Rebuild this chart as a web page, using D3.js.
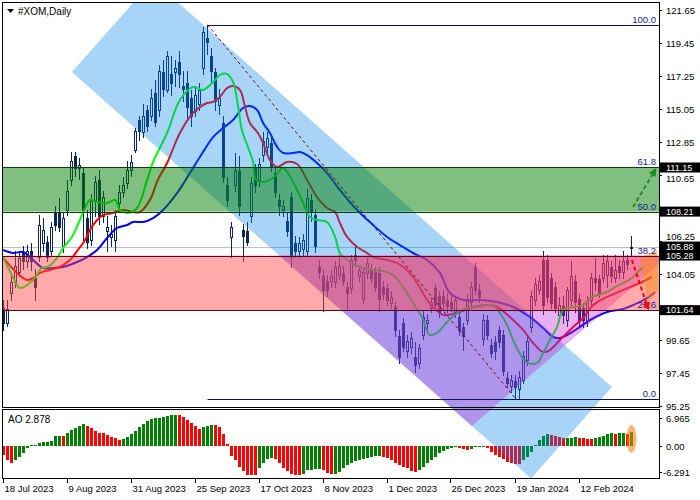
<!DOCTYPE html>
<html><head><meta charset="utf-8">
<script src="https://cdn.jsdelivr.net/npm/d3@7/dist/d3.min.js"></script>
<style>body{margin:0;background:#fff}svg{display:block;font-family:"Liberation Sans",Arial,sans-serif}</style>
</head><body><svg id="c" width="700" height="500"></svg>
<script>
// ---------- DATA ----------
const dateLabels = ["18 Jul 2023","9 Aug 2023","31 Aug 2023","25 Sep 2023","17 Oct 2023","8 Nov 2023","1 Dec 2023","26 Dec 2023","19 Jan 2024","12 Feb 2024"];
const dateBars = [0,16,32,48,64,80,96,112,128,144];
const priceTicks = [121.65,119.45,117.25,115.05,112.85,110.65,108.45,106.25,104.05,101.85,99.65,97.45,95.25];
const priceBoxes = [111.15,108.21,101.64,105.28,105.88];
const aoTicks = [6.965,0.00,-6.291];
const aoTickText = ["6.965","0.00","-6.291"];

const open = [101.8,100.8,102.8,103.5,104.2,105.5,104.9,105.6,103.8,105.2,106.1,106.2,105.6,108.2,108.1,105.9,108.3,110.3,111.9,111.1,
110.8,107.8,106.3,109.0,110.3,107.9,106.9,106.5,106.3,108.8,109.5,110.1,111.0,112.3,114.3,113.5,115.0,114.6,116.1,115.0,
117.5,116.3,117.4,117.5,118.2,116.6,116.8,115.8,114.9,115.4,117.8,119.8,118.6,117.5,115.3,114.1,110.0,106.5,110.0,110.9,
107.0,106.9,107.9,111.1,110.3,112.0,112.5,112.8,110.8,109.0,108.3,107.6,109.2,106.1,105.6,105.7,105.6,109.0,108.0,104.5,
103.9,103.6,103.6,103.5,104.0,104.1,103.2,103.1,105.3,103.9,102.4,104.1,104.3,104.2,104.1,103.2,103.1,102.1,101.9,99.9,
100.8,98.9,99.2,98.5,98.1,100.0,100.8,101.8,103.1,102.6,102.6,102.3,102.2,101.5,101.2,100.5,101.0,102.2,104.5,103.0,
99.7,101.0,99.3,99.5,100.3,100.0,97.1,96.6,96.9,96.4,97.0,98.3,100.5,102.3,103.0,105.0,105.0,103.8,103.2,101.3,
101.9,101.0,102.3,103.6,102.4,101.8,100.9,102.3,103.8,103.7,103.8,104.0,104.5,103.8,104.6,104.2,105.0,105.8];
const high = [102.3,102.3,104.1,105.6,105.6,105.9,106.0,106.1,104.4,108.0,107.8,106.6,107.5,108.6,109.1,108.2,110.3,112.2,112.2,111.8,
111.2,108.3,109.4,110.6,111.0,109.6,107.9,107.3,108.3,110.0,110.5,111.6,112.0,113.8,114.6,115.4,115.3,116.4,117.0,118.0,
118.3,118.9,118.6,118.3,118.9,117.6,117.6,116.3,116.6,116.8,120.5,120.67,119.1,117.8,116.4,114.6,110.5,107.5,112.1,111.9,
107.4,107.5,110.5,111.4,111.8,113.5,113.5,113.2,111.2,109.4,109.0,108.2,109.5,106.6,106.5,106.7,109.7,109.4,108.4,105.0,
104.3,104.0,104.3,104.9,105.3,104.6,103.5,105.3,106.0,104.6,104.5,105.1,104.7,104.5,104.5,103.6,103.4,102.9,102.2,100.3,
101.1,100.0,100.2,99.5,99.4,101.6,101.4,102.5,103.4,102.9,103.0,102.8,102.6,102.6,101.5,100.8,102.7,103.5,104.8,103.4,
101.4,101.3,99.7,99.9,100.6,100.3,97.5,97.3,97.3,97.6,98.9,99.9,102.9,103.8,104.0,105.6,105.3,104.1,103.5,102.5,
102.6,103.2,104.9,104.0,102.7,102.1,102.6,104.1,105.1,104.0,105.3,105.3,104.9,105.3,105.0,105.6,105.3,106.6];
const low = [100.3,100.6,102.3,103.2,103.9,104.4,104.5,104.3,102.3,104.9,105.6,104.9,105.3,107.0,106.9,105.5,108.0,110.0,110.6,110.4,
106.3,105.8,106.0,107.9,107.4,107.5,105.6,105.9,105.6,108.5,109.2,109.8,110.6,112.2,113.0,113.2,113.6,114.3,113.9,114.6,
115.9,116.2,116.0,116.6,116.5,115.6,114.4,113.9,114.6,115.0,117.4,118.7,116.8,115.0,114.7,110.2,108.6,105.2,109.6,108.0,
104.9,106.0,107.5,109.5,109.9,111.6,112.0,110.9,109.2,108.0,107.9,106.6,104.5,105.2,105.2,105.3,105.3,107.6,105.5,103.8,
101.6,102.6,103.2,103.2,103.7,103.3,101.65,102.8,104.6,103.6,102.1,103.8,103.5,102.9,101.6,102.4,102.0,101.8,99.9,98.1,
98.9,98.5,98.8,97.5,97.8,99.7,100.4,101.5,101.7,101.2,101.7,101.5,101.6,101.2,100.0,99.0,100.7,101.9,102.7,102.2,
99.3,99.7,98.5,98.4,99.2,97.3,96.5,96.2,95.75,95.8,96.8,98.0,100.2,102.0,102.7,101.4,102.2,101.8,101.5,100.9,
100.8,100.6,102.0,101.5,100.6,100.5,100.6,102.0,103.0,102.5,103.5,103.2,103.5,103.5,103.8,103.8,104.4,105.3];
const close = [100.8,101.7,103.5,104.6,105.1,104.9,105.6,104.9,103.2,107.3,107.0,105.2,107.2,107.3,107.2,107.8,109.6,111.6,111.1,111.3,
108.3,106.2,108.9,110.2,107.9,109.2,107.2,106.7,107.9,109.5,110.0,111.0,111.5,113.6,113.6,114.6,113.9,115.8,114.2,117.6,
116.4,118.6,116.8,117.8,117.4,116.4,115.2,114.6,116.0,116.3,120.2,119.5,117.6,115.6,115.8,110.5,109.0,107.2,111.0,108.6,
106.6,106.2,110.1,110.0,111.4,112.9,113.1,111.2,109.5,108.6,108.6,106.9,105.2,105.6,106.1,106.3,109.1,108.2,105.9,104.2,
103.0,103.0,103.9,104.5,104.6,103.6,102.8,105.0,105.0,104.3,104.2,104.8,103.8,103.2,102.4,102.7,102.3,102.5,100.3,98.5,
99.2,99.6,99.8,98.0,99.1,101.2,101.0,102.2,102.0,101.5,102.1,101.9,101.8,102.3,100.3,99.9,102.4,103.2,103.0,102.5,
101.0,100.0,98.8,98.9,99.5,97.6,96.8,97.0,96.5,97.2,98.6,99.6,102.6,103.4,103.6,102.0,102.5,102.1,101.8,102.0,
101.3,103.0,103.9,102.2,100.9,101.0,102.3,103.8,103.5,102.8,104.8,104.9,103.9,104.3,104.2,104.9,104.7,105.88];

const ao = [-1.74,-2.73,-3.26,-2.73,-2.07,-1.28,-0.42,0.17,0.24,0.57,0.77,0.9,1.03,2.02,2.05,2.0,2.55,3.2,3.54,4.0,
4.33,4.0,3.54,3.0,2.68,2.55,2.2,1.89,1.56,1.3,1.35,1.75,2.4,3.0,3.87,4.4,5.05,5.38,5.5,5.65,
5.85,6.05,6.18,6.2,6.15,5.72,5.19,4.53,4.0,3.48,3.75,4.02,4.15,4.1,3.75,2.42,0.44,-1.9,-2.7,-4.05,
-5.0,-5.6,-5.72,-5.75,-4.4,-3.3,-2.6,-2.4,-2.45,-3.26,-4.38,-4.85,-5.5,-5.7,-5.72,-5.5,-4.7,-4.65,-4.58,-4.55,
-4.7,-5.37,-5.57,-5.5,-5.04,-4.38,-3.72,-3.26,-2.93,-2.73,-2.53,-2.27,-2.07,-1.94,-1.87,-2.07,-2.4,-2.73,-3.26,-3.72,
-4.05,-4.38,-4.85,-5.04,-4.7,-4.05,-3.4,-2.73,-2.07,-1.4,-0.95,-0.62,-0.35,-0.2,-0.3,-0.55,-0.7,-0.5,-0.2,0.05,
0.1,-0.3,-1.1,-1.7,-2.1,-2.6,-3.06,-3.3,-3.45,-3.55,-2.7,-2.07,-1.2,0.2,1.2,2.0,2.35,2.3,2.05,1.8,
1.55,1.65,1.7,1.75,1.7,1.6,1.5,1.45,1.6,1.85,2.1,2.4,2.55,2.45,2.55,2.6,2.5,2.878];

// Alligator lines: [bar, price]
const lips = [[-0.1,105.18],[2.1,103.98],[4.1,103.12],[7.4,103.65],[9.6,104.45],[11.1,104.52],[13.4,105.12],[14.9,105.78],[17.1,106.52],[19.1,107.65],[20.4,108.45],[21.6,108.98],[23.4,108.85],[25.9,108.78],[27.9,108.98],[29.1,108.32],[31.1,108.12],[33.4,108.45],[35.9,110.32],[37.4,111.52],[40.9,113.45],[44.1,115.65],[47.4,116.52],[49.9,116.32],[52.4,116.85],[54.1,117.32],[55.9,117.38],[57.4,116.85],[58.6,115.32],[59.6,113.65],[61.1,112.52],[62.4,111.52],[63.1,110.32],[64.9,110.18],[67.4,110.45],[69.9,111.12],[72.1,110.32],[74.6,108.98],[76.6,107.85],[78.4,107.65],[80.9,107.52],[82.9,106.52],[84.1,105.45],[85.9,104.98],[89.1,104.52],[92.4,104.32],[94.9,104.25],[97.4,103.98],[99.9,103.18],[102.4,102.12],[104.6,101.18],[106.6,99.98],[108.4,100.12],[110.9,100.85],[113.4,101.45],[115.9,101.78],[118.4,101.85],[120.9,101.98],[122.4,101.98],[124.1,101.45],[125.9,100.65],[127.4,99.65],[129.6,98.52],[131.1,98.12],[133.4,98.12],[134.9,98.78],[136.6,99.65],[138.4,100.52],[139.9,101.65],[142.4,101.85],[144.9,101.98],[146.6,102.45],[148.6,102.65],[150.9,102.85],[152.9,103.18],[154.9,103.45],[157.1,103.78],[159.1,104.32],[159.9,104.45]];
const teeth = [[-0.1,105.12],[3.4,104.12],[5.9,103.65],[7.4,103.78],[9.1,104.12],[11.6,104.32],[14.1,104.52],[16.6,104.98],[18.6,105.65],[20.4,106.32],[21.6,106.98],[23.4,107.65],[24.9,107.98],[27.4,108.12],[29.9,108.32],[32.4,108.18],[34.1,108.18],[36.6,108.98],[38.6,110.32],[40.9,111.45],[44.1,113.45],[47.4,114.78],[50.9,115.45],[52.4,115.52],[54.1,115.85],[55.9,116.45],[57.4,116.58],[59.1,116.32],[60.4,115.18],[61.6,114.12],[63.6,113.45],[64.9,112.78],[66.6,111.65],[68.4,111.18],[70.9,111.52],[73.4,111.38],[75.9,110.32],[78.4,109.18],[80.9,108.45],[82.9,108.18],[84.1,107.45],[85.9,106.52],[88.4,105.85],[90.9,105.45],[92.4,105.18],[95.9,104.98],[98.4,104.78],[100.9,104.32],[103.4,103.45],[105.9,102.32],[107.4,101.85],[109.9,101.32],[113.4,101.45],[116.6,101.78],[120.9,101.98],[123.4,101.85],[126.6,101.18],[129.9,100.32],[132.4,99.45],[134.9,98.85],[136.6,98.98],[139.1,99.65],[142.4,100.52],[144.9,101.12],[147.4,101.98],[150.9,102.52],[154.9,102.98],[159.1,103.45],[162.1,103.85]];
const jaw = [[-0.1,105.65],[2.4,105.45],[4.9,105.52],[7.4,104.98],[9.9,104.45],[12.4,104.45],[14.9,104.52],[18.4,104.85],[20.9,105.18],[23.4,105.65],[25.9,106.45],[28.4,107.12],[30.9,107.32],[32.4,107.52],[34.9,107.52],[37.4,107.78],[39.9,108.32],[43.4,109.45],[46.6,110.78],[49.1,111.85],[52.4,113.18],[54.9,113.78],[57.4,114.32],[59.9,115.12],[61.6,115.25],[63.4,114.98],[64.9,114.12],[66.6,113.45],[68.4,112.52],[69.9,112.12],[72.4,112.12],[74.1,112.18],[75.9,111.98],[78.4,111.45],[80.9,110.78],[84.1,109.65],[88.4,108.32],[92.4,107.32],[95.9,106.52],[99.1,105.98],[102.4,105.45],[105.9,104.98],[109.1,104.12],[111.6,102.78],[114.9,102.32],[119.1,102.32],[123.4,102.18],[127.4,101.85],[131.6,101.18],[134.9,100.45],[137.4,99.85],[139.1,99.78],[140.9,99.98],[144.1,100.52],[146.6,100.98],[150.9,101.52],[154.9,101.72],[157.4,101.98],[160.9,102.45],[162.9,102.85]];

// Fibonacci retracement (levels and prices)
const fibLevels = ["100.0","61.8","50.0","38.2","23.6","0.0"];
const fibPrices = [120.67,111.15,108.21,105.28,101.64,95.75];
const fibStartBar = 51, fibEndBar = 128;
const bidPrice = 105.88;

// Drawn objects, in [bar, price]
const channelDown = [[37.4,123.62],[152.1,96.52],[131.9,90.42],[17.1,117.52]];
const channelUp = [[68.95,105.28],[163.9,105.28],[163.9,104.72],[117.1,93.92]];
const orangeZone = [[159.1,105.12],[163.4,105.65],[163.9,102.98],[161.1,102.18]];
const greenArrow = [[157.4,108.52],[162.9,110.98]];
const redArrow = [[157.1,104.98],[161.1,101.78]];

// ---------- DRAW ----------
const svg = d3.select("#c");
const navy = "#0c2459";
const L=3, R=659, T=3, MB=407, AT=410, AB=478;
const x = d3.scaleLinear().domain([0,157]).range([3.5,631.5]);
const y = d3.scaleLinear().domain([95.25,121.65]).range([406,10]);
const ya = d3.scaleLinear().domain([-6.291,6.965]).range([478,411]);

svg.append("rect").attr("width",700).attr("height",500).attr("fill","#fff");
const defs = svg.append("defs");
defs.append("clipPath").attr("id","cm").append("rect").attr("x",L).attr("y",T).attr("width",R-L).attr("height",MB-T);
defs.append("clipPath").attr("id","ca").append("rect").attr("x",L).attr("y",AT).attr("width",R-L).attr("height",AB-AT);
defs.append("clipPath").attr("id","call").append("rect").attr("x",L).attr("y",T).attr("width",R-L).attr("height",AB-T);
function marker(id,color){
  defs.append("marker").attr("id",id).attr("viewBox","0 0 10 10").attr("refX",7).attr("refY",5)
   .attr("markerWidth",4).attr("markerHeight",4).attr("orient","auto").attr("markerUnits","strokeWidth")
   .append("path").attr("d","M0,0L10,5L0,10Z").attr("fill",color);
}
marker("mg","#1e8c1e"); marker("mr","#ff0000");

const bars = open.map((o,i)=>({i,o,h:high[i],l:low[i],c:close[i]}));
const gMain = svg.append("g").attr("clip-path","url(#cm)");

// bid line
gMain.append("line").attr("x1",L).attr("x2",R).attr("y1",Math.round(y(bidPrice))+0.5).attr("y2",Math.round(y(bidPrice))+0.5).attr("stroke","#c0c0c0");

// candles
gMain.selectAll("line.w").data(bars).join("line").attr("class","w")
  .attr("x1",d=>x(d.i)).attr("x2",d=>x(d.i))
  .attr("y1",d=>Math.round(y(d.h))).attr("y2",d=>Math.round(y(d.l))+1).attr("stroke",navy);
gMain.selectAll("rect.b").data(bars).join("rect").attr("class","b")
  .attr("x",d=>x(d.i)-1).attr("width",2)
  .attr("y",d=>Math.round(y(Math.max(d.o,d.c)))+0.5)
  .attr("height",d=>Math.max(1,Math.round(y(Math.min(d.o,d.c)))-Math.round(y(Math.max(d.o,d.c)))))
  .attr("fill",d=>d.c>=d.o?"#fff":navy).attr("stroke",navy);

// alligator
const ln = d3.line().x(d=>x(d[0])).y(d=>y(d[1])).curve(d3.curveCatmullRom.alpha(0.5));
[[jaw,"#0000ff"],[teeth,"#ff0000"],[lips,"#00ff00"]].forEach(([s,c])=>{
  gMain.append("path").attr("d",ln(s)).attr("fill","none").attr("stroke",c).attr("stroke-width",2);
});

// AO
const gAO = svg.append("g").attr("clip-path","url(#ca)");
gAO.selectAll("rect").data(ao).join("rect")
  .attr("x",(d,i)=>x(i)-1.5).attr("width",3)
  .attr("y",d=>Math.round(ya(Math.max(d,0))))
  .attr("height",d=>Math.max(1,Math.abs(Math.round(ya(d))-Math.round(ya(0)))))
  .attr("fill",(d,i)=> i>0 && d>ao[i-1] ? "#008000" : "#ff0000");
const lastI = ao.length-1;
gAO.append("ellipse").attr("cx",x(lastI)).attr("cy",ya(ao[lastI]/2)).attr("rx",5).attr("ry",14)
  .attr("fill","rgba(255,120,0,0.55)");

// overlays
const gO = svg.append("g").attr("clip-path","url(#call)");
const poly = pts => pts.map(p=>[x(p[0]),y(p[1])].join(",")).join(" ");
gO.append("polygon").attr("points",poly(channelDown)).attr("fill","rgba(6,131,234,0.35)");
gO.append("polygon").attr("points",poly(channelUp)).attr("fill","rgba(189,29,212,0.35)");
const g1=y(fibPrices[1]), g2=y(fibPrices[2]), p1=y(fibPrices[3]), p2=y(fibPrices[4]);
gO.append("rect").attr("x",L).attr("width",R-L).attr("y",g1).attr("height",g2-g1).attr("fill","rgba(0,128,0,0.5)");
gO.append("rect").attr("x",L).attr("width",R-L).attr("y",p1).attr("height",p2-p1).attr("fill","rgba(255,70,70,0.46)");
gO.append("polygon").attr("points",poly(orangeZone)).attr("fill","rgba(255,140,0,0.45)");

// band borders / fib lines
const gF = svg.append("g").attr("clip-path","url(#cm)");
fibPrices.forEach((p,k)=>{
  const yy = Math.round(y(p))+0.5;
  const full = k>0 && k<5;
  const col = (k==1||k==2) ? "#0f3f0f" : (k==3||k==4) ? "#5a0020" : "#10106a";
  gF.append("line").attr("x1",full?L:x(fibStartBar)).attr("x2",R).attr("y1",yy).attr("y2",yy).attr("stroke",col);
  gF.append("text").attr("x",656).attr("y",yy-2.5).attr("text-anchor","end").attr("font-size",9.5)
    .attr("fill","#1a1a8c").text(fibLevels[k]);
});
gF.append("line").attr("x1",x(fibStartBar)).attr("y1",y(fibPrices[0])).attr("x2",x(fibEndBar)).attr("y2",y(fibPrices[5]))
  .attr("stroke","#800000").attr("stroke-dasharray","3,3");
gF.append("line").attr("x1",x(greenArrow[0][0])).attr("y1",y(greenArrow[0][1])).attr("x2",x(greenArrow[1][0])).attr("y2",y(greenArrow[1][1]))
  .attr("stroke","#1e8c1e").attr("stroke-width",2).attr("stroke-dasharray","4,3").attr("marker-end","url(#mg)");
gF.append("line").attr("x1",x(redArrow[0][0])).attr("y1",y(redArrow[0][1])).attr("x2",x(redArrow[1][0])).attr("y2",y(redArrow[1][1]))
  .attr("stroke","#ff0000").attr("stroke-width",2).attr("stroke-dasharray","4,3").attr("marker-end","url(#mr)");

// frames
svg.append("rect").attr("x",L-0.5).attr("y",T-0.5).attr("width",R-L+1).attr("height",MB-T+1).attr("fill","none").attr("stroke","#000");
svg.append("rect").attr("x",L-0.5).attr("y",AT-0.5).attr("width",R-L+1).attr("height",AB-AT+1).attr("fill","none").attr("stroke","#000");

// right price axis (labels hidden under a price box are dropped, nearby ones nudged away, as in the reference)
const nearest = t => priceBoxes.reduce((m,b)=>Math.abs(y(b)-y(t))<Math.abs(y(m)-y(t))?b:m, priceBoxes[0]);
const hidden = t => Math.abs(y(nearest(t))-y(t)) < 5;
const ax = svg.append("g").attr("transform",`translate(${R},0)`)
  .call(d3.axisRight(y).tickValues(priceTicks).tickFormat(d=>hidden(d)?"":d3.format(".2f")(d)).tickSize(3).tickPadding(4));
ax.select(".domain").remove();
ax.selectAll("text").attr("font-size",9.5).attr("font-family","Liberation Sans, Arial, sans-serif").attr("fill","#000")
  .attr("transform",d=>{ const dy = y(d)-y(nearest(d)); const s = Math.max(3, 10.5-Math.abs(dy));
    return Math.abs(dy)<11 ? `translate(0,${dy>0?s:-s})` : null; });
ax.selectAll("line").attr("stroke","#000");

// price boxes
priceBoxes.forEach(p=>{
  const yy = y(p);
  svg.append("rect").attr("x",660).attr("y",yy-5).attr("width",40).attr("height",10).attr("fill","#000");
  svg.append("text").attr("x",666).attr("y",yy+3.2).attr("font-size",9).attr("fill","#fff").text(d3.format(".2f")(p));
});

// AO axis
aoTicks.forEach((v,k)=>{
  const yy = ya(v) + (k==0?7:(k==2?-6:0));
  svg.append("line").attr("x1",R).attr("x2",R+3).attr("y1",Math.round(yy)+0.5).attr("y2",Math.round(yy)+0.5).attr("stroke","#000");
  svg.append("text").attr("x",k==2?663:666).attr("y",yy+3.5).attr("font-size",9.5).text(aoTickText[k]);
});

// date axis
dateBars.forEach((b,k)=>{
  const xx = Math.round(x(b))-0.5;
  svg.append("line").attr("x1",xx).attr("x2",xx).attr("y1",AB).attr("y2",AB+5).attr("stroke","#000");
  svg.append("text").attr("x",xx+1).attr("y",492).attr("font-size",9.5).text(dateLabels[k]);
});

// headers
svg.append("path").attr("d","M7,9L14,9L10.5,13Z").attr("fill","#000");
svg.append("text").attr("x",18).attr("y",15).attr("font-size",10).text("#XOM,Daily");
svg.append("text").attr("x",8).attr("y",423).attr("font-size",10).text("AO 2.878");
</script></body></html>
